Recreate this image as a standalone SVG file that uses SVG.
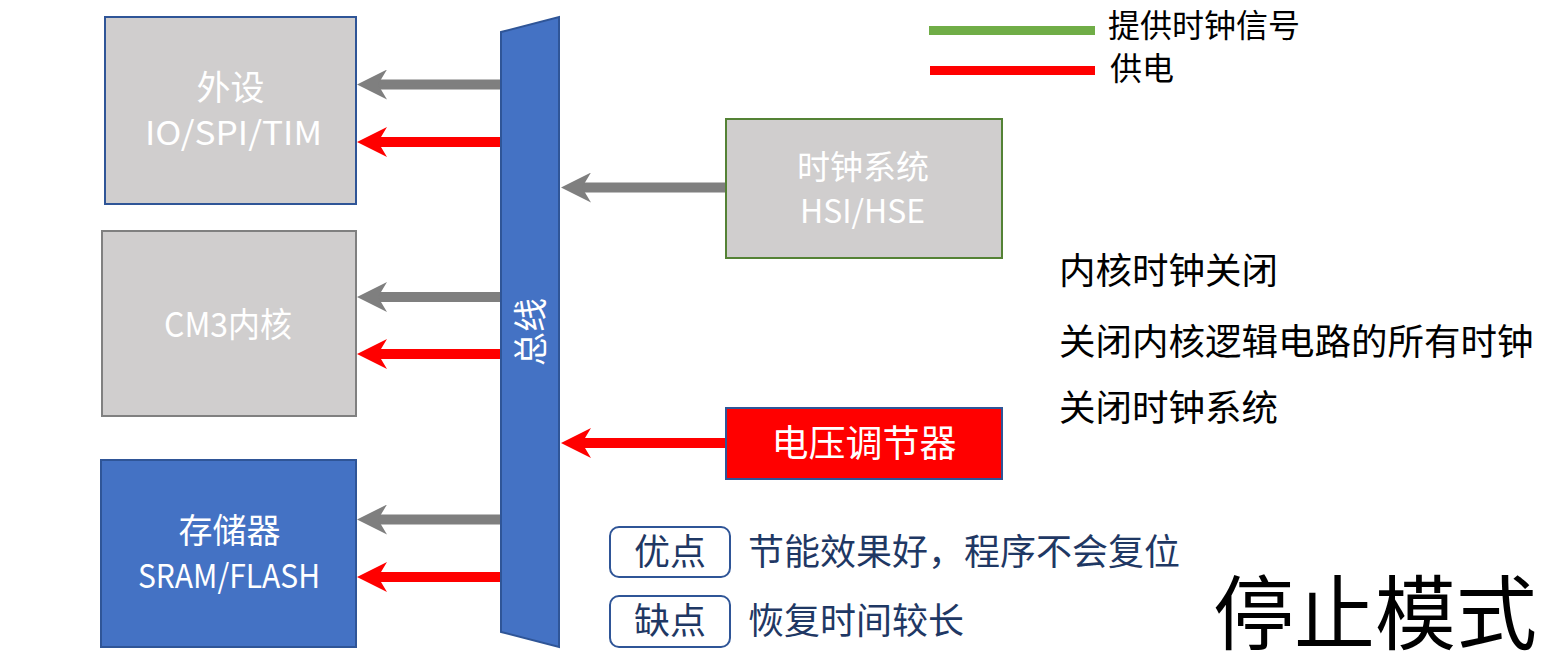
<svg xmlns="http://www.w3.org/2000/svg" width="1550" height="666" viewBox="0 0 1550 666">
<defs>
<style>
text{font-family:"Noto Sans CJK SC","Noto Sans",sans-serif}
.w{fill:#ffffff}
.k{fill:#000000}
.n{fill:#1f3864}
.gray{fill:#d0cece}
.lg{stroke:#7f7f7f;stroke-width:10;fill:none}
.lr{stroke:#ff0000;stroke-width:10;fill:none}
</style>
<marker id="ag" viewBox="0 0 30 30" markerWidth="30" markerHeight="30" markerUnits="userSpaceOnUse" refX="15" refY="15" orient="auto">
<path d="M0,0 L30,15 L0,30 L9,15 Z" fill="#7f7f7f"/>
</marker>
<marker id="ar" viewBox="0 0 30 30" markerWidth="30" markerHeight="30" markerUnits="userSpaceOnUse" refX="15" refY="15" orient="auto">
<path d="M0,0 L30,15 L0,30 L9,15 Z" fill="#ff0000"/>
</marker>
</defs>
<rect width="1550" height="666" fill="#ffffff"/>

<g id="connectors">
<line class="lg" x1="502" y1="84.5" x2="372" y2="84.5" marker-end="url(#ag)"/>
<line class="lr" x1="502" y1="142" x2="372" y2="142" marker-end="url(#ar)"/>
<line class="lg" x1="502" y1="297" x2="372" y2="297" marker-end="url(#ag)"/>
<line class="lr" x1="502" y1="354" x2="372" y2="354" marker-end="url(#ar)"/>
<line class="lg" x1="502" y1="519.5" x2="372" y2="519.5" marker-end="url(#ag)"/>
<line class="lr" x1="502" y1="577" x2="372" y2="577" marker-end="url(#ar)"/>
<line class="lg" x1="726" y1="187.5" x2="576" y2="187.5" marker-end="url(#ag)"/>
<line class="lr" x1="726" y1="443" x2="576" y2="443" marker-end="url(#ar)"/>
</g>

<g id="peripheral">
<rect x="105" y="17" width="251" height="187" class="gray" stroke="#2f5597" stroke-width="2"/>
<text x="230.5" y="100" font-size="34" text-anchor="middle" class="w">外设</text>
<text x="145" y="145" font-size="33" textLength="177" lengthAdjust="spacingAndGlyphs" class="w">IO/SPI/TIM</text>
</g>

<g id="core">
<rect x="102" y="231" width="254" height="185" class="gray" stroke="#808080" stroke-width="2"/>
<text x="164" y="337" font-size="34" textLength="128" lengthAdjust="spacingAndGlyphs" class="w">CM3内核</text>
</g>

<g id="memory">
<rect x="101" y="460" width="255" height="187" fill="#4472c4" stroke="#2f5597" stroke-width="2"/>
<text x="229.5" y="543" font-size="34" text-anchor="middle" class="w">存储器</text>
<text x="138" y="588" font-size="33" textLength="182" lengthAdjust="spacingAndGlyphs" class="w">SRAM/FLASH</text>
</g>

<g id="bus">
<polygon points="501,32 559,17 559,647 501,632" fill="#4472c4" stroke="#2f5597" stroke-width="2"/>
<text transform="translate(531,332) rotate(-90)" x="0" y="12" font-size="34" text-anchor="middle" class="w">总线</text>
</g>

<g id="clock">
<rect x="726" y="119" width="276" height="139" class="gray" stroke="#548235" stroke-width="2"/>
<text x="863" y="179" font-size="33" text-anchor="middle" class="w">时钟系统</text>
<text x="800" y="223" font-size="32" textLength="125" lengthAdjust="spacingAndGlyphs" class="w">HSI/HSE</text>
</g>

<g id="regulator">
<rect x="726" y="408" width="276" height="71" fill="#ff0000" stroke="#2f5597" stroke-width="2"/>
<text x="864" y="457" font-size="37" text-anchor="middle" class="w">电压调节器</text>
</g>

<g id="legend">
<line x1="929" y1="30.5" x2="1095" y2="30.5" stroke="#70ad47" stroke-width="9"/>
<line x1="930" y1="70.5" x2="1095" y2="70.5" stroke="#ff0000" stroke-width="9"/>
<text x="1108" y="37" font-size="32" class="k">提供时钟信号</text>
<text x="1110" y="80" font-size="32" class="k">供电</text>
</g>

<g id="notes">
<text x="1059" y="284" font-size="36.5" class="k">内核时钟关闭</text>
<text x="1059" y="355" font-size="36.5" class="k">关闭内核逻辑电路的所有时钟</text>
<text x="1059" y="421" font-size="36.5" class="k">关闭时钟系统</text>
</g>

<g id="pros">
<rect x="610" y="527" width="120" height="50" rx="9" fill="#ffffff" stroke="#2f5597" stroke-width="2"/>
<text x="670" y="565" font-size="36" text-anchor="middle" class="n">优点</text>
<text x="748" y="565" font-size="36" class="n">节能效果好，程序不会复位</text>
</g>

<g id="cons">
<rect x="610" y="596" width="120" height="51" rx="9" fill="#ffffff" stroke="#2f5597" stroke-width="2"/>
<text x="670" y="634" font-size="36" text-anchor="middle" class="n">缺点</text>
<text x="748" y="634" font-size="36" class="n">恢复时间较长</text>
</g>

<g id="title">
<text x="1213" y="643" font-size="81" class="k">停止模式</text>
</g>
</svg>
